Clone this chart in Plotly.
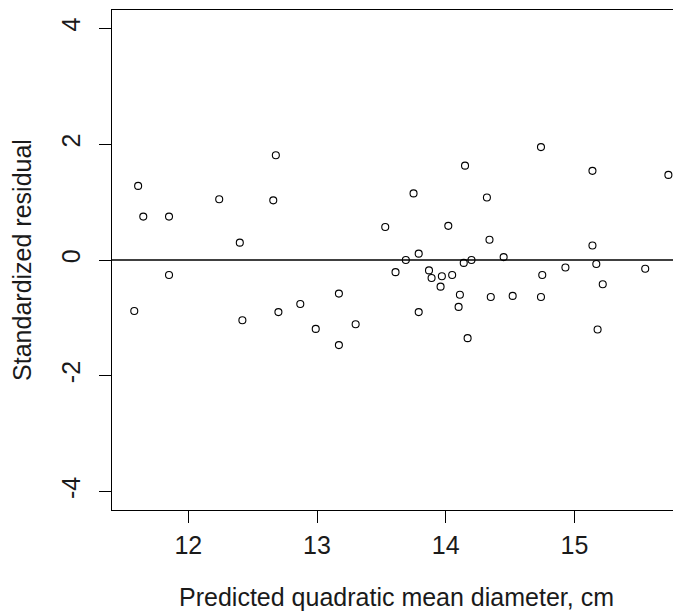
import plotly.graph_objects as go

predicted = [11.61, 11.65, 11.85, 12.24, 12.40, 12.68, 12.66, 11.85, 11.58, 12.42,
             12.70, 12.87, 12.99, 13.17, 13.17, 13.30, 13.53, 13.61, 13.69, 13.75,
             13.79, 13.79, 13.87, 13.89, 13.96, 13.97, 14.02, 14.05, 14.10, 14.11,
             14.14, 14.15, 14.17, 14.20, 14.32, 14.34, 14.35, 14.45, 14.52, 14.74,
             14.74, 14.75, 14.93, 15.14, 15.14, 15.17, 15.18, 15.22, 15.55, 15.73]
residual = [1.28, 0.75, 0.75, 1.05, 0.30, 1.81, 1.03, -0.26, -0.88, -1.04,
            -0.90, -0.76, -1.19, -0.58, -1.47, -1.11, 0.57, -0.21, 0.00, 1.15,
            0.11, -0.90, -0.18, -0.31, -0.46, -0.28, 0.59, -0.26, -0.81, -0.60,
            -0.05, 1.63, -1.35, 0.00, 1.08, 0.35, -0.64, 0.05, -0.62, 1.95,
            -0.64, -0.26, -0.13, 1.54, 0.25, -0.07, -1.20, -0.42, -0.15, 1.47]
x_ticks = [12, 13, 14, 15]
y_ticks = [-4, -2, 0, 2, 4]

FONT = "Liberation Sans, Arial, sans-serif"
TXT = "#1a1a1a"

fig = go.Figure()
fig.add_trace(go.Scatter(
    x=predicted, y=residual, mode="markers",
    marker=dict(symbol="circle-open", size=7, color="black", line=dict(width=1.1, color="black")),
    showlegend=False, hoverinfo="x+y",
))
fig.add_hline(y=0, line=dict(color="black", width=1.3))

# the page body has an 8px default margin, so the figure is sized to fit the window
fig.update_layout(
    template="none",
    width=673, height=606,
    margin=dict(l=104, r=0, t=2, b=104, pad=0, autoexpand=False),
    paper_bgcolor="white", plot_bgcolor="white",
    font=dict(family=FONT, size=25, color=TXT),
    xaxis=dict(
        range=[11.407, 15.828], tickvals=x_ticks, ticktext=[str(v) for v in x_ticks],
        showgrid=False, zeroline=False, showline=True, linecolor="black", linewidth=1.3,
        mirror=True, ticks="outside", ticklen=12, tickwidth=1.3, tickcolor="black",
        automargin=False,
        tickfont=dict(family=FONT, size=25, color=TXT), ticklabelstandoff=1,
        title=dict(text="Predicted quadratic mean diameter, cm",
                   font=dict(family=FONT, size=25, color=TXT), standoff=30),
    ),
    yaxis=dict(
        range=[-4.318, 4.318], tickvals=y_ticks, ticktext=[str(v) for v in y_ticks],
        showgrid=False, zeroline=False, showline=True, linecolor="black", linewidth=1.3,
        mirror=False, ticks="outside", ticklen=12, tickwidth=1.3, tickcolor="black",
        automargin=False,
        tickangle=-90, tickfont=dict(family=FONT, size=25, color=TXT), ticklabelstandoff=9,
        title=dict(text="Standardized residual",
                   font=dict(family=FONT, size=25, color=TXT), standoff=18),
    ),
)

fig.write_html("out.html")
